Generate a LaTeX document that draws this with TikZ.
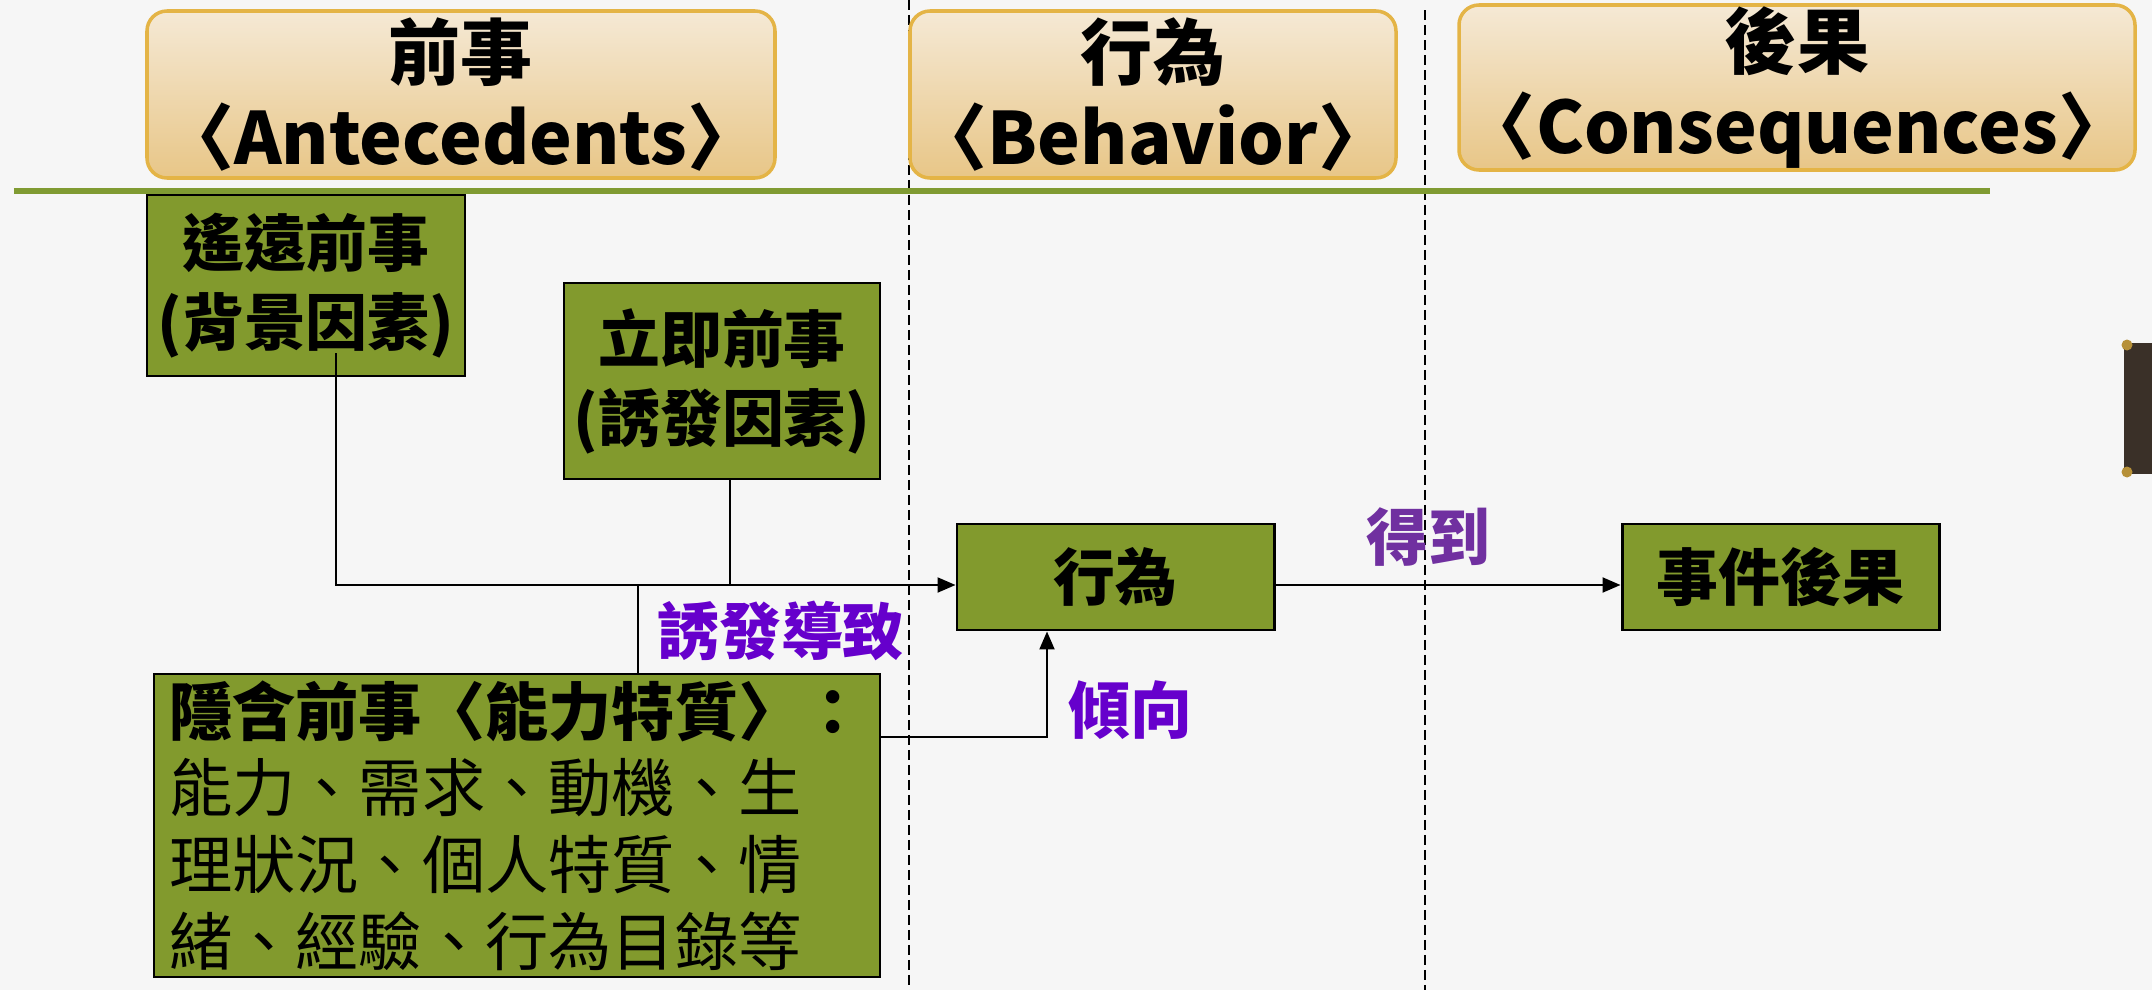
\documentclass[tikz,border=0pt]{standalone}
\usepackage{fontspec}
\setmainfont{Noto Sans CJK TC}
\usetikzlibrary{arrows.meta,calc}
\definecolor{paper}{RGB}{246,246,246}
\definecolor{boxgreen}{RGB}{130,154,45}
\definecolor{rulegreen}{RGB}{128,155,50}
\definecolor{tabtop}{RGB}{245,233,213}
\definecolor{tabbot}{RGB}{232,198,135}
\definecolor{tabedge}{RGB}{228,180,70}
\definecolor{cuepurple}{RGB}{102,0,204}
\definecolor{gainpurple}{RGB}{112,48,160}
\definecolor{darkbar}{RGB}{58,48,40}
\colorlet{capgold}{tabedge!80!black}

\begin{document}
\begin{tikzpicture}[
            tab/.style={draw=tabedge,line width=1pt,rounded corners=2mm,
                top color=tabtop,bottom color=tabbot,align=center,inner sep=0pt,
                font=\fontsize{20.5}{24}\selectfont\bfseries},
            factor/.style={draw,line width=0.85pt,fill=boxgreen,align=center,inner sep=0pt,
                font=\fontsize{17.6}{22.5}\selectfont\bfseries},
            cue/.style={inner sep=0pt,font=\fontsize{17.6}{21}\selectfont\bfseries},
            link/.style={line width=0.6pt},
            lead/.style={link,-{Triangle[length=1.8mm,width=1.5mm]}}
        ]
            \fill [paper] (0,0) rectangle (21.52,-9.90);
            \useasboundingbox (0,0) rectangle (21.52,-9.90);
            \draw [line width=0.6pt,dash pattern=on 1mm off 0.5mm] (9.09,0) -- (9.09,-9.90);
            \draw [line width=0.6pt,dash pattern=on 1mm off 0.5mm] (14.25,-0.10) -- (14.25,-9.90);
            \draw [rulegreen,line width=1.5pt] (0.14,-1.91) -- (19.90,-1.91);
            \fill [darkbar] (21.24,-3.43) rectangle (21.52,-4.74);
            \fill [capgold] (21.27,-3.45) circle (0.055) (21.27,-4.72) circle (0.055);

            \node [tab,minimum width=6.28cm,minimum height=1.67cm] (ante) at (4.61,-0.945)
                {前事\\〈Antecedents〉};
            \node [tab,minimum width=4.86cm,minimum height=1.67cm] (behav) at (11.53,-0.945)
                {行為\\〈Behavior〉};
            \node [tab,minimum width=6.76cm,minimum height=1.65cm] (conseq) at (17.97,-0.875)
                {後果\\〈Consequences〉};

            \node [factor,minimum width=3.18cm,minimum height=1.81cm] (remote) at (3.06,-2.855)
                {遙遠前事\\(背景因素)};
            \node [factor,minimum width=3.16cm,minimum height=1.96cm] (trigger) at (7.22,-3.81)
                {立即前事\\(誘發因素)};
            \node [factor,minimum width=3.17cm,minimum height=1.06cm] (act) at (11.155,-5.77)
                {行為};
            \node [factor,minimum width=3.17cm,minimum height=1.06cm] (result) at (17.805,-5.77)
                {事件後果};
            \node [factor,minimum width=7.26cm,minimum height=3.03cm,align=left,
                font=\fontsize{18}{21.8}\selectfont] (latent) at (5.17,-8.255)
                {{\bfseries 隱含前事〈能力特質〉：}\\能力、需求、動機、生\\理狀況、個人特質、情\\緒、經驗、行為目錄等};

            \coordinate (join) at (3.36,-5.85);
            \coordinate (bend) at (10.47,-7.37);
            \draw [lead] ([xshift=0.30cm,yshift=0.24cm]remote.south)
                -- (join)
                -- (join -| act.west)
            ;
            \draw [link] ([xshift=0.08cm]trigger.south) -- ([xshift=0.08cm]trigger.south |- join);
            \draw [link] ([xshift=1.21cm]latent.north) -- ([xshift=1.21cm]latent.north |- join);
            \draw [lead] (latent.east |- bend)
                -- (bend)
                -- (bend |- act.south)
            ;
            \draw [lead] (act.east |- join) -- (result.west |- join);

            \node [cue,text=cuepurple] (cause) at (7.81,-6.31) {誘發導致};
            \node [cue,text=cuepurple] (lean) at (11.30,-7.10) {傾向};
            \node [cue,text=gainpurple] (gain) at (14.28,-5.37) {得到};
        \end{tikzpicture}
\end{document}
